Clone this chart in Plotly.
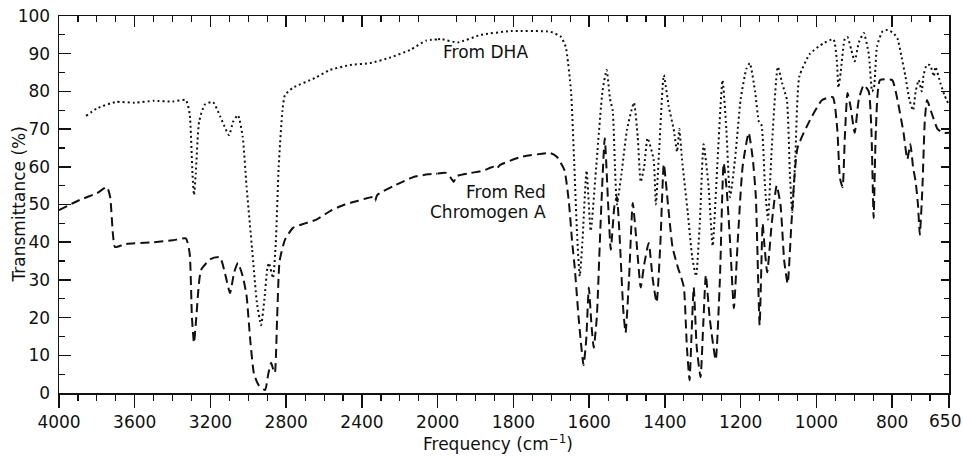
import plotly.graph_objects as go

# ---------------- data (wavenumber cm-1, transmittance %) ----------------
dha_wn = [3857, 3800, 3700, 3600, 3500, 3400, 3330, 3310, 3295, 3287, 3278, 3260, 3230,
          3187, 3150, 3120, 3102, 3080, 3055, 3030, 3010, 2980, 2955, 2933, 2915, 2900,
          2891, 2870, 2855, 2840, 2820, 2807, 2764, 2650, 2569, 2463, 2358, 2250, 2146,
          2060, 2000, 1992, 1947, 1886, 1807, 1702, 1675, 1662, 1648, 1640, 1632, 1625,
          1618, 1607, 1596, 1580, 1565, 1554, 1545, 1538, 1532, 1527, 1515, 1500, 1482,
          1472, 1464, 1455, 1446, 1430, 1424, 1415, 1403, 1390, 1377, 1368, 1362, 1355,
          1340, 1328, 1318, 1308, 1298, 1285, 1274, 1262, 1248, 1238, 1228, 1215, 1200,
          1185, 1176, 1162, 1152, 1145, 1136, 1128, 1118, 1102, 1090, 1078, 1070, 1064,
          1056, 1045, 1017, 981, 955, 946, 942, 936, 925, 918, 908, 899, 888, 875, 862,
          853, 848, 840, 825, 812, 797, 786, 775, 765, 755, 745, 738, 730, 722, 717, 709,
          700, 690, 686, 672, 662, 650]
dha_t = [73.5, 75.5, 77.2, 77.0, 77.5, 77.3, 77.7, 74, 58, 52.5, 58, 72, 76.5,
         77.2, 73.5, 70, 68.4, 72, 73.7, 68, 55, 38, 24, 18, 25, 33,
         34.5, 30.5, 40, 60, 75, 79, 81, 83.5, 85.7, 87, 87.5, 89, 91,
         93.5, 93.8, 93.9, 93, 95, 96, 95.8, 94.5, 91.8, 80, 62, 42, 31,
         40, 59, 43, 62, 80, 85.7, 78, 75, 60, 50, 58, 70, 77,
         68, 56, 60, 67.6, 62, 50, 65, 84.3, 76, 70, 64, 70, 62,
         48, 36, 31, 45, 66, 55, 39, 60, 83, 70, 52, 62, 78,
         86, 87.5, 80, 72, 71, 55, 46, 65, 86.5, 82, 77.7, 58, 48,
         62, 84, 90, 92.8, 93.8, 88, 81, 85, 94, 94.4, 91, 88, 93, 95.5, 90,
         80, 81, 92, 96, 96.3, 95.5, 94, 89, 84, 78, 75, 80, 83, 80, 84.4, 87,
         87, 84, 86.5, 82, 79, 76.4]

red_wn = [4000, 3900, 3800, 3747, 3730, 3715, 3704, 3650, 3500, 3400, 3330, 3310, 3298,
          3287, 3275, 3250, 3200, 3150, 3120, 3097, 3075, 3055, 3030, 3010, 2990, 2970,
          2945, 2912, 2895, 2880, 2870, 2860, 2848, 2835, 2807, 2764, 2700, 2640, 2560,
          2490, 2420, 2341, 2330, 2320, 2230, 2127, 2050, 2000, 1979, 1965, 1958, 1950,
          1915, 1880, 1852, 1845, 1835, 1780, 1702, 1685, 1675, 1665, 1654, 1645, 1638,
          1628, 1615, 1608, 1601, 1594, 1588, 1580, 1570, 1559, 1550, 1543, 1533, 1527,
          1520, 1510, 1504, 1495, 1485, 1475, 1464, 1455, 1443, 1432, 1422, 1412, 1403,
          1392, 1380, 1365, 1358, 1350, 1342, 1335, 1330, 1324, 1316, 1306, 1299, 1292,
          1282, 1266, 1255, 1245, 1237, 1228, 1218, 1208, 1195, 1179, 1168, 1160, 1150,
          1142, 1138, 1130, 1118, 1105, 1095, 1085, 1076, 1066, 1050, 1017, 985, 957,
          945, 938, 931, 925, 918, 910, 899, 888, 875, 862, 855, 849, 843, 832, 800,
          786, 770, 760, 752, 745, 738, 732, 727, 720, 714, 708, 695, 680, 665, 650]
red_t = [48.5, 51, 53, 54.6, 52, 42, 38.7, 39.5, 40, 40.5, 41, 37, 20,
         13.3, 20, 32.6, 35.5, 36, 31, 26.5, 32, 34.5, 31, 26, 14, 5,
         2, 0.8, 5, 8, 6.5, 5.3, 20, 35, 40.6, 43.8, 45, 46, 48.5,
         50, 51, 52, 51, 52.5, 55, 57.3, 58, 58.2, 58.4, 57, 56, 57.5,
         58.3, 59, 60, 59.5, 60.5, 62.6, 63.6, 62.6, 61, 59, 51, 40, 33,
         20, 7.4, 14, 28, 18, 12, 20, 45, 67.6, 50, 38, 50, 52,
         42, 22, 16, 30, 50.4, 40, 28, 34, 39.8, 30, 24, 40, 60.7,
         50, 38.7, 33, 31, 28, 12, 3.4, 15, 28, 12, 4.2, 18, 31.3,
         20, 8.8, 30, 61, 54, 40, 22.5, 40, 60, 69, 62, 52, 18,
         45, 40, 32, 45, 55, 50, 35, 29, 45, 65, 72.4, 77.7, 78.5,
         70, 57, 54.6, 68, 79.6, 76, 69, 78, 81.7, 80, 70, 46.4, 70, 83, 83,
         77.7, 69, 62, 66, 60, 56, 50, 42, 55, 72, 77.7, 74, 70, 69, 69]

x_ticks_high = [4000, 3600, 3200, 2800, 2400, 2000]
x_ticks_low = [1800, 1600, 1400, 1200, 1000, 800, 650]
y_ticks = [0, 10, 20, 30, 40, 50, 60, 70, 80, 90, 100]

BREAK = 2000
X_START, X_END = 4000, 650
split = (X_START - BREAK) / ((X_START - BREAK) + 2 * (BREAK - X_END))


def part(wn, t, high):
    keep = [(w, v) for w, v in zip(wn, t) if (w >= BREAK if high else w <= BREAK)]
    return [k[0] for k in keep], [k[1] for k in keep]


FONT = "DejaVu Sans"
BLACK = "#111111"
dash_red = dict(color=BLACK, width=2, dash="9px,5px")
dot_dha = dict(color=BLACK, width=2, dash="2px,3px")

fig = go.Figure()
for high, xa in ((True, "x"), (False, "x2")):
    xs, ys = part(red_wn, red_t, high)
    fig.add_trace(go.Scatter(x=xs, y=ys, mode="lines", line=dict(shape="spline", smoothing=0.5, **dash_red),
                             xaxis=xa, yaxis="y", showlegend=False, hoverinfo="skip"))
for high, xa, ya in ((True, "x3", "y"), (False, "x4", "y2")):
    xs, ys = part(dha_wn, dha_t, high)
    fig.add_trace(go.Scatter(x=xs, y=ys, mode="lines", line=dict(shape="spline", smoothing=0.5, **dot_dha),
                             xaxis=xa, yaxis=ya, showlegend=False, hoverinfo="skip"))

tickfont = dict(family=FONT, size=17, color=BLACK)
common = dict(showline=True, linecolor=BLACK, linewidth=1.5, showgrid=False, zeroline=False,
              tickcolor=BLACK, tickwidth=1.5, tickmode="array", tickfont=tickfont, automargin=False,
              ticklabeloverflow="allow")

# last low-range label ("650") sits at the very edge: drawn as an annotation nudged left
low_text = [str(v) for v in x_ticks_low[:-1]] + [""]

fig.update_layout(
    width=963, height=459,
    margin=dict(l=59, r=14, t=16, b=66, autoexpand=False),
    paper_bgcolor="white", plot_bgcolor="white",
    xaxis=dict(domain=[0, split], range=[X_START, BREAK], anchor="y", ticks="outside", ticklen=13,
               tickvals=x_ticks_high, ticktext=[str(v) for v in x_ticks_high],
               minor=dict(ticks="outside", ticklen=6, dtick=100, tick0=0, tickcolor=BLACK, tickwidth=1.2),
               **common),
    xaxis2=dict(domain=[split, 1], range=[BREAK, X_END], anchor="y", ticks="outside", ticklen=13,
                tickvals=x_ticks_low, ticktext=low_text,
                minor=dict(ticks="outside", ticklen=6, dtick=50, tick0=0, tickcolor=BLACK, tickwidth=1.2),
                **common),
    xaxis3=dict(overlaying="x", side="top", anchor="y", range=[X_START, BREAK], ticks="inside", ticklen=11,
                tickvals=x_ticks_high, showticklabels=False,
                minor=dict(ticks="inside", ticklen=6, dtick=100, tick0=0, tickcolor=BLACK, tickwidth=1.2),
                **common),
    xaxis4=dict(overlaying="x2", side="top", anchor="y2", range=[BREAK, X_END], ticks="inside", ticklen=11,
                tickvals=x_ticks_low, showticklabels=False,
                minor=dict(ticks="inside", ticklen=6, dtick=50, tick0=0, tickcolor=BLACK, tickwidth=1.2),
                **common),
    yaxis=dict(domain=[0, 1], range=[0, 100], anchor="x", side="left", ticks="inside", ticklen=12,
               tickvals=y_ticks, ticktext=[str(v) for v in y_ticks], ticklabelstandoff=4,
               minor=dict(ticks="inside", ticklen=6, dtick=5, tick0=0, tickcolor=BLACK, tickwidth=1.2),
               **common),
    yaxis2=dict(overlaying="y", range=[0, 100], anchor="x2", side="right", ticks="inside", ticklen=8,
                tickvals=y_ticks, showticklabels=False,
                minor=dict(ticks="inside", ticklen=5, dtick=5, tick0=0, tickcolor=BLACK, tickwidth=1.2),
                **common),
    annotations=[
        dict(text=str(x_ticks_low[-1]), xref="x2", yref="paper", x=x_ticks_low[-1], y=-0.074,
             xshift=-4.5, showarrow=False, xanchor="center", yanchor="middle", font=tickfont),
        dict(text="From DHA", xref="paper", yref="paper", x=0.4787, y=0.9045, showarrow=False,
             xanchor="center", yanchor="middle", font=dict(family=FONT, size=17, color=BLACK)),
        dict(text="From Red", xref="paper", yref="paper", x=0.549, y=0.533, showarrow=False,
             xanchor="right", yanchor="middle", font=dict(family=FONT, size=17, color=BLACK)),
        dict(text="Chromogen A", xref="paper", yref="paper", x=0.549, y=0.480, showarrow=False,
             xanchor="right", yanchor="middle", font=dict(family=FONT, size=17, color=BLACK)),
        dict(text="Frequency (cm<sup>\u22121</sup>)", xref="paper", yref="paper", x=0.493, y=-0.133,
             showarrow=False, xanchor="center", yanchor="middle", font=dict(family=FONT, size=17, color=BLACK)),
        dict(text="Transmittance (%)", xref="paper", yref="paper", x=-0.046, y=0.5, textangle=-90,
             showarrow=False, xanchor="center", yanchor="middle", font=dict(family=FONT, size=17, color=BLACK)),
    ],
)

fig.write_html("out.html", config={"displayModeBar": False, "staticPlot": True},
               post_script="document.body.style.margin='0px';document.body.style.overflow='hidden';")
